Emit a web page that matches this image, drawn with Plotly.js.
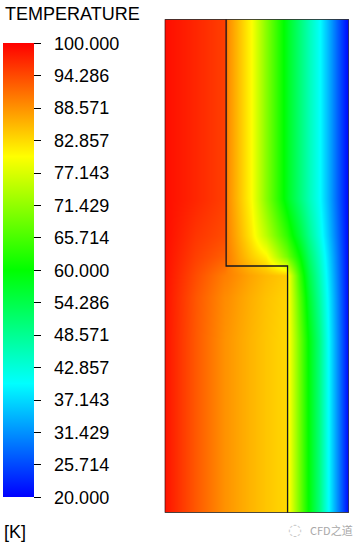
<!DOCTYPE html>
<html>
<head>
<meta charset="utf-8">
<script src="https://cdn.plot.ly/plotly-3.0.1.min.js"></script>
<style>html,body{margin:0;padding:0;background:#fff;}#chart{width:359px;height:544px;}</style>
</head>
<body>
<div id="chart"></div>
<script>
// Sample positions across the domain (x, width 3) and up it (y, height 8)
const xCols = [0, 0.5, 0.98, 1.02, 1.2, 1.4, 1.65, 1.98, 2.02, 2.2, 2.35, 2.5, 2.65, 2.82, 3.0];
const yRows = [0, 2.8, 3.5, 3.85, 4.15, 4.5, 5.1, 8.0];

// Temperature [K] read along each row, bottom to top
const tRowY0   = [98.5, 93, 88.5, 88.2, 87, 85.8, 84.5, 83, 80, 68.7, 59.4, 50.6, 40.6, 30.6, 20];
const tRowY28  = [98.5, 93, 88.5, 88.2, 87, 85.8, 84.5, 83, 80, 68.5, 59.2, 50.4, 40.5, 30.5, 20];
const tRowY35  = [98.6, 93.2, 89, 88.8, 87.5, 86.2, 84.8, 83.3, 79.5, 66.5, 56.6, 48, 39.5, 30, 20];
const tRowY385 = [98.7, 94, 90, 89.8, 88.5, 87, 85.5, 84, 79, 64.3, 54.6, 46.5, 38.5, 29.5, 20];
const tRowY415 = [98.8, 95, 92.5, 90, 87, 84, 80.8, 69.2, 67.7, 60, 52, 44.8, 37.5, 29, 20];
const tRowY45  = [99, 95.8, 94, 89.5, 85.9, 81.7, 74.7, 63.7, 62.3, 55.3, 48.9, 42.5, 35.9, 28.2, 20];
const tRowY51  = [99, 97, 95, 89, 84.9, 80.3, 70.6, 58, 56.7, 50.7, 45.7, 40.7, 34.5, 27.2, 20];
const tRowY8   = [99, 97, 95, 89, 84.9, 80.3, 70.6, 58, 56.7, 50.7, 45.7, 40.7, 34.5, 27.2, 20];

// Interface between the two bodies
const interfaceX = [1, 1, 2, 2];
const interfaceY = [8, 4, 4, 0];

// Legend
const tickVals = [100, 94.286, 88.571, 82.857, 77.143, 71.429, 65.714, 60, 54.286, 48.571, 42.857, 37.143, 31.429, 25.714, 20];
const tickText = ['100.000','94.286','88.571','82.857','77.143','71.429','65.714','60.000','54.286','48.571','42.857','37.143','31.429','25.714','20.000'];
const tMin = 20, tMax = 100;

const zGrid = [tRowY0, tRowY28, tRowY35, tRowY385, tRowY415, tRowY45, tRowY51, tRowY8];

const W = 359, H = 544;
const plotL = 164.7, plotR = 349, plotT = 19.3, plotB = 512.7;
const FONT = 'Liberation Sans, Arial, sans-serif';
const PAD = '\u00a0\u00a0';

const heat = {
  type: 'heatmap',
  x: xCols, y: yRows, z: zGrid,
  zmin: tMin, zmax: tMax,
  zsmooth: 'best',
  colorscale: [[0,'rgb(0,0,255)'],[0.25,'rgb(0,255,255)'],[0.5,'rgb(0,255,0)'],[0.75,'rgb(255,255,0)'],[1,'rgb(255,0,0)']],
  hoverinfo: 'skip',
  colorbar: {
    x: 2.7 / W, xanchor: 'left', xpad: 0,
    y: 1 - 43.3 / H, yanchor: 'top', ypad: 0,
    len: 454, lenmode: 'pixels',
    thickness: 30.6, thicknessmode: 'pixels',
    outlinewidth: 0,
    tickmode: 'array', tickvals: tickVals, ticktext: tickText.map(t => PAD + t),
    ticks: 'outside', ticklen: 7, tickwidth: 1, tickcolor: '#000',
    tickfont: {family: FONT, size: 18, color: '#000'}
  }
};

const iface = {
  type: 'scatter', mode: 'lines',
  x: interfaceX, y: interfaceY,
  line: {color: '#15151f', width: 1.3},
  hoverinfo: 'skip', showlegend: false
};

const layout = {
  width: W, height: H,
  margin: {l: 0, r: 0, t: 0, b: 0},
  paper_bgcolor: '#fff', plot_bgcolor: '#fff',
  showlegend: false,
  xaxis: {domain: [plotL / W, plotR / W], range: [0, 3], visible: false, fixedrange: true},
  yaxis: {domain: [1 - plotB / H, 1 - plotT / H], range: [0, 8], visible: false, fixedrange: true},
  shapes: [{type: 'rect', xref: 'x', yref: 'y', x0: 0, x1: 3, y0: 0, y1: 8, line: {color: '#111', width: 1.2}}],
  annotations: [
    {text: 'TEMPERATURE', xref: 'paper', yref: 'paper', x: 3 / W, y: 1 - 14.5 / H, xanchor: 'left', yanchor: 'middle', showarrow: false, font: {family: FONT, size: 18, color: '#000'}},
    {text: '[K]', xref: 'paper', yref: 'paper', x: 2 / W, y: 1 - 532 / H, xanchor: 'left', yanchor: 'middle', showarrow: false, font: {family: FONT, size: 18, color: '#000'}},
    {text: '◌', xref: 'paper', yref: 'paper', x: 295 / W, y: 1 - 529 / H, xanchor: 'center', yanchor: 'middle', showarrow: false, font: {family: 'DejaVu Sans', size: 16, color: '#c8c8c8'}},
    {text: 'CFD之道', xref: 'paper', yref: 'paper', x: 308 / W, y: 1 - 530 / H, xanchor: 'left', yanchor: 'middle', showarrow: false, font: {family: 'Noto Sans CJK SC, sans-serif', size: 11, color: '#a8a8a8'}}
  ]
};

Plotly.newPlot('chart', [heat, iface], layout, {staticPlot: true, displayModeBar: false});
</script>
</body>
</html>
